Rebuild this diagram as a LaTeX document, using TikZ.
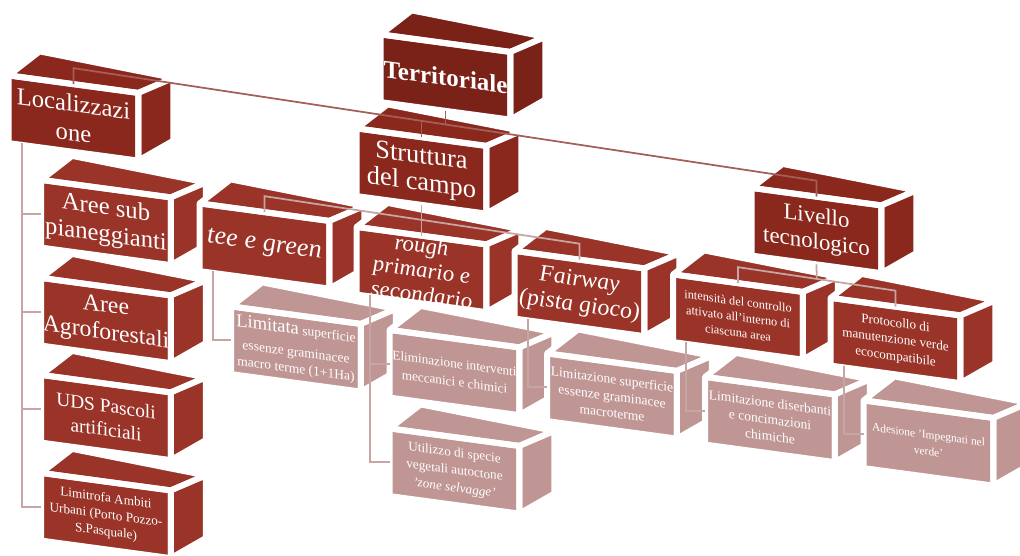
\documentclass[tikz,border=0pt]{standalone}
\usepackage{fontspec}
\setmainfont{Liberation Serif}
\usetikzlibrary{calc}

\definecolor{terrred}{HTML}{7B2218}
\definecolor{midred}{HTML}{8B281D}
\definecolor{boxred}{HTML}{9A3429}
\definecolor{palered}{HTML}{C09694}
\definecolor{linkdark}{HTML}{A65E58}
\definecolor{linkgray}{HTML}{C6A6A4}

% 3D box: name, centre, colour, font, text
\newcommand{\tierbox}[5]{%
    \node[front, fill=#3] (#1) at (#2) {};
    \node[boxtext, font={#4}] (#1t) at (#1.center) {#5};
    \filldraw[face, fill=#3] (#1.north west) -- (#1.north east) -- ++(35,-15)
        -- ($(#1.north west)+(31,-24)$) -- cycle;
    \filldraw[face, fill=#3] (#1.north east) -- ++(35,-15)
        -- ($(#1.south east)+(35,-20)$) -- (#1.south east) -- cycle;
    \draw[face] (#1.north west) -- (#1.north east) -- (#1.south east)
        -- (#1.south west) -- cycle;
}

\begin{document}
\begin{tikzpicture}[
    x=0.02cm,
    y=-0.02cm,
    front/.style={
        yslant=-0.135,
        minimum width=2.58cm,
        minimum height=1.34cm,
        inner sep=0pt
    },
    boxtext/.style={
        yslant=-0.135,
        align=center,
        text=white,
        inner sep=0pt
    },
    face/.style={
        draw=white,
        line width=3.4pt,
        line join=round
    },
    link/.style={
        linkgray,
        line width=1pt
    },
    toplink/.style={
        linkdark,
        line width=1pt
    }
]

    \useasboundingbox (0,0) rectangle (1020,555);

    % Top Level
    \tierbox{terr}{445.5,77}{terrred}{\bfseries\fontsize{14.2}{16}\selectfont}{Territoriale}

    % Second Level
    \tierbox{loc}{73.5,118}{midred}{\fontsize{14}{16.5}\selectfont}{Localizzazi\\one}
    \tierbox{str}{421.5,171}{midred}{\fontsize{15}{15.5}\selectfont}{Struttura\\del campo}
    \tierbox{liv}{816.5,230.5}{midred}{\fontsize{13}{14.5}\selectfont}{Livello\\tecnologico}

    % Third Level
    \tierbox{a1}{106,222.5}{boxred}{\fontsize{14}{15.5}\selectfont}{Aree sub\\pianeggianti}
    \tierbox{a2}{106,320.5}{boxred}{\fontsize{13.5}{15.5}\selectfont}{Aree\\Agroforestali}
    \tierbox{a3}{106,417.5}{boxred}{\fontsize{11}{13.5}\selectfont}{UDS Pascoli\\artificiali}
    \tierbox{a4}{106,515.5}{boxred}{\fontsize{7.5}{9.5}\selectfont}{Limitrofa Ambiti\\Urbani (Porto Pozzo-\\S.Pasquale)}

    \tierbox{tee}{264.5,246}{boxred}{\itshape\fontsize{15}{17}\selectfont}{tee e green}
    \tierbox{rough}{421.5,269.5}{boxred}{\itshape\fontsize{13}{14}\selectfont}{rough\\primario e\\secondario}
    \tierbox{fair}{579.5,293.5}{boxred}{\itshape\fontsize{13.5}{14.5}\selectfont}{Fairway\\(pista gioco)}
    \tierbox{int}{738,317}{boxred}{\fontsize{7}{9}\selectfont}{intensità del controllo\\attivato all'interno di\\ciascuna area}
    \tierbox{prot}{895.5,340.5}{boxred}{\fontsize{7.5}{9.5}\selectfont}{Protocollo di\\manutenzione verde\\ecocompatibile}

    % Fourth Level
    \tierbox{lim}{296,349}{palered}{\fontsize{7.7}{9.5}\selectfont}{{\fontsize{10.5}{12}\selectfont Limitata} superficie\\[3pt]essenze graminacee\\macro terme (1+1Ha)}
    \tierbox{elim}{454.5,372.5}{palered}{\fontsize{7.5}{10.5}\selectfont}{Eliminazione interventi\\meccanici e chimici}
    \tierbox{util}{454.5,471}{palered}{\fontsize{7.5}{10}\selectfont}{Utilizzo di specie\\vegetali autoctone\\\textit{'zone selvagge'}}
    \tierbox{lims}{612,396}{palered}{\fontsize{7.7}{9.5}\selectfont}{Limitazione superficie\\essenze graminacee\\macroterme}
    \tierbox{limd}{770,419.5}{palered}{\fontsize{7.7}{9.5}\selectfont}{Limitazione diserbanti\\e concimazioni\\chimiche}
    \tierbox{ades}{928.5,443}{palered}{\fontsize{6.5}{9.5}\selectfont}{Adesione 'Impegnati nel\\verde'}

    % Connections
    \draw[toplink] (loc.north) -- ++(0,-16) coordinate (lb)
        -- ($(liv.north)+(0,-16)$) coordinate (rb) -- (liv.north);
    \draw[toplink] (terr.south) -- ++(0,14);
    \draw[toplink] (str.north) -- ++(0,-16);

    \coordinate (tb) at ($(tee.north)+(0,-16)$);
    \coordinate (fb) at ($(fair.north)+(0,-16)$);
    \draw[link] (tee.north) -- (tb) -- (fb) -- (fair.north);
    \draw[link] (str.south) -- (rough.north);

    \coordinate (ib) at ($(int.north)+(0,-16)$);
    \coordinate (pb) at ($(prot.north)+(0,-16)$);
    \draw[link] (int.north) -- (ib) -- (pb) -- (prot.north);
    \draw[link] (liv.south) -- ($(ib)!0.5!(pb)$);

    \foreach \i in {1,...,4}
        \draw[link] ($(loc.south west)+(13,0)$) |- (a\i.west);

    \draw[link] ($(tee.south west)+(13,0)$) |- (lim.west);
    \draw[link] ($(rough.south west)+(13,0)$) |- (elim.west);
    \draw[link] ($(rough.south west)+(13,0)$) |- (util.west);
    \draw[link] ($(fair.south west)+(13,0)$) |- (lims.west);
    \draw[link] ($(int.south west)+(13,0)$) |- (limd.west);
    \draw[link] ($(prot.south west)+(13,0)$) |- (ades.west);

\end{tikzpicture}
\end{document}
